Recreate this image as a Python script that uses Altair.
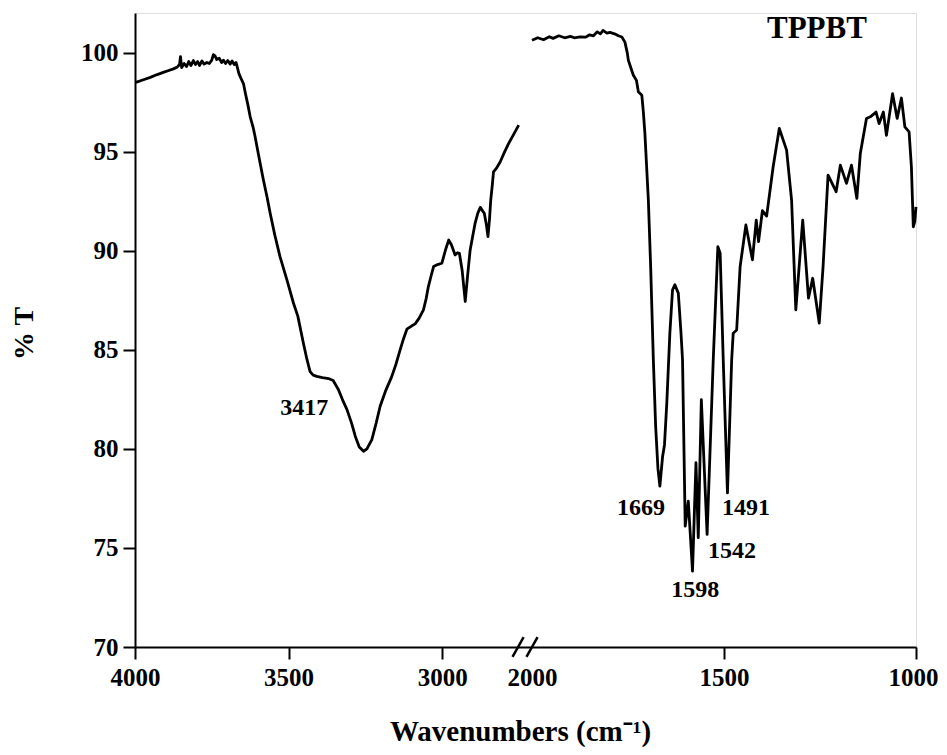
import altair as alt
import pandas as pd

# ---- spectrum, left segment (4000 - 2750 cm-1) ----
left_wn = [3997, 3975, 3950, 3930, 3908, 3890, 3875, 3862, 3855, 3852, 3848, 3840, 3832, 3825,
           3818, 3810, 3803, 3796, 3790, 3782, 3775, 3766, 3758, 3750, 3745, 3740, 3734, 3726,
           3718, 3712, 3705, 3698, 3690, 3684, 3677, 3671, 3666, 3662, 3655, 3647, 3640, 3633,
           3625, 3615, 3609, 3595, 3582, 3570, 3560, 3545, 3528, 3505, 3484, 3470, 3452, 3440,
           3430, 3420, 3408, 3390, 3370, 3355, 3338, 3325, 3310, 3295, 3283, 3270, 3256, 3245,
           3229, 3215, 3202, 3185, 3164, 3150, 3137, 3125, 3115, 3100, 3088, 3075, 3061, 3052,
           3045, 3035, 3028, 3015, 3001, 2990, 2979, 2970, 2958, 2950, 2944, 2935, 2925, 2917,
           2909, 2900, 2893, 2884, 2876, 2868, 2863, 2856, 2851, 2846, 2842, 2837, 2833, 2822,
           2811, 2798, 2784, 2770, 2751]
left_t = [98.50, 98.62, 98.75, 98.88, 99.00, 99.10, 99.18, 99.28, 99.40, 99.80, 99.25, 99.45, 99.30, 99.55,
          99.35, 99.60, 99.40, 99.55, 99.35, 99.58, 99.42, 99.50, 99.45, 99.62, 99.90, 99.85, 99.65, 99.72,
          99.50, 99.62, 99.45, 99.60, 99.42, 99.58, 99.40, 99.50, 99.20, 98.95, 98.70, 98.44, 97.90, 97.40,
          96.76, 96.20, 95.75, 94.60, 93.57, 92.70, 91.89, 90.80, 89.70, 88.50, 87.35, 86.70, 85.34, 84.50,
          83.90, 83.72, 83.66, 83.60, 83.55, 83.45, 83.00, 82.50, 81.98, 81.30, 80.64, 80.10, 79.88, 80.00,
          80.47, 81.30, 82.15, 82.90, 83.66, 84.30, 85.00, 85.60, 86.04, 86.20, 86.31, 86.60, 87.02, 87.60,
          88.19, 88.80, 89.20, 89.30, 89.37, 90.00, 90.54, 90.30, 89.79, 89.90, 89.87, 89.00, 87.44, 88.80,
          90.04, 90.80, 91.38, 91.90, 92.19, 92.00, 91.89, 91.30, 90.71, 91.60, 92.56, 93.30, 93.98, 94.20,
          94.49, 94.95, 95.41, 95.80, 96.34]

# ---- spectrum, right segment (2000 - 1000 cm-1) ----
right_wn = [2000, 1985, 1970, 1955, 1945, 1930, 1915, 1900, 1890, 1875, 1860, 1850, 1840, 1830,
            1822, 1815, 1805, 1797, 1785, 1775, 1766, 1758, 1752, 1749, 1742, 1736, 1728, 1723,
            1714, 1710, 1706, 1697, 1691, 1684, 1678, 1672, 1667, 1660, 1655, 1649, 1641, 1634,
            1628, 1619, 1612, 1608, 1601, 1593, 1582, 1573, 1567, 1559, 1544, 1528, 1516, 1510,
            1502, 1491, 1480, 1476, 1467, 1458, 1443, 1426, 1416, 1410, 1400, 1389, 1372, 1356,
            1337, 1324, 1313, 1295, 1280, 1269, 1252, 1242, 1229, 1208, 1197, 1181, 1168, 1154,
            1145, 1129, 1119, 1104, 1096, 1085, 1077, 1061, 1049, 1038, 1029, 1018, 1012, 1007,
            1003, 1000]
right_t = [100.62, 100.75, 100.65, 100.80, 100.72, 100.85, 100.75, 100.82, 100.75, 100.80, 100.78, 100.90, 100.85, 101.05,
           100.95, 101.12, 100.98, 101.02, 100.95, 100.85, 100.79, 100.53, 100.00, 99.61, 99.20, 98.86, 98.60, 98.02,
           97.85, 97.00, 95.92, 92.56, 89.20, 84.50, 81.14, 79.00, 78.12, 79.60, 80.20, 82.30, 85.84, 88.03,
           88.28, 87.86, 85.85, 84.50, 76.10, 77.36, 73.83, 79.30, 75.52, 82.48, 75.68, 84.50, 90.21, 89.87,
           84.50, 77.78, 84.50, 85.84, 86.00, 89.20, 91.30, 89.54, 91.55, 90.46, 92.02, 91.75, 94.24, 96.17,
           95.08, 92.56, 87.02, 91.55, 87.61, 88.61, 86.35, 89.20, 93.82, 92.98, 94.32, 93.40, 94.32, 92.64,
           94.91, 96.67, 96.76, 97.00, 96.42, 97.00, 95.83, 97.93, 96.68, 97.71, 96.25, 96.00, 94.24, 91.21,
           91.50, 92.22]

# ---- peak annotations ----
peak_labels = ["3417", "1669", "1491", "1542", "1598"]
peak_wn = [3449, 1716, 1443, 1479, 1575]
peak_t = [82.08, 77.04, 77.00, 74.83, 72.90]

# ---- sample name ----
sample_name = ["TPPBT"]
sample_wn = [1258]
sample_t = [101.17]

# ---- axis break marks ----
break_wn = [2753, 2000]
break_t = [70, 70]

x_ticks = [4000, 3500, 3000, 2000, 1500, 1000]
y_ticks = [70, 75, 80, 85, 90, 95, 100]

spec = pd.DataFrame({
    "wn": left_wn + right_wn,
    "T": left_t + right_t,
    "seg": ["left"] * len(left_wn) + ["right"] * len(right_wn),
})
peaks = pd.DataFrame({"label": peak_labels, "wn": peak_wn, "T": peak_t})
sample = pd.DataFrame({"label": sample_name, "wn": sample_wn, "T": sample_t})
breaks = pd.DataFrame({"wn": break_wn, "T": break_t})

FONT = "Liberation Serif"

xscale = alt.Scale(domain=[4000, 2750, 2000, 1000], range=[0, 384, 397, 781], nice=False, zero=False)
yscale = alt.Scale(domain=[70, 102], nice=False, zero=False)

xaxis = alt.Axis(
    values=x_ticks, format="d", grid=False,
    tickSize=12, tickWidth=2, tickColor="black",
    tickOpacity={"condition": {"test": "datum.value == 2000", "value": 0}, "value": 1},
    domainWidth=2, domainColor="black",
    labelFont=FONT, labelFontWeight="bold", labelFontSize=25, labelColor="black",
    labelOffset={"condition": {"test": "datum.value == 1000", "value": -3}, "value": 0},
    labelPadding=6, labelFlush=False, labelOverlap=False,
    title="Wavenumbers (cm⁻¹)", titleFont=FONT, titleFontWeight="bold", titleFontSize=29,
    titleColor="black", titleX=385, titleY=93, titleAlign="center", titleBaseline="alphabetic",
)
yaxis = alt.Axis(
    values=y_ticks, grid=False,
    tickSize=12, tickWidth=2, tickColor="black",
    domainWidth=2, domainColor="black",
    labelFont=FONT, labelFontWeight="bold", labelFontSize=25, labelColor="black",
    labelPadding=5, labelFlush=False, labelOverlap=False,
    title="% T", titleFont=FONT, titleFontWeight="bold", titleFontSize=28, titleColor="black",
    titleAngle=270, titleX=-111, titleY=320, titleAlign="center", titleBaseline="middle",
)

line = alt.Chart(spec).mark_line(color="black", strokeWidth=2.8, strokeJoin="round").encode(
    x=alt.X("wn:Q", scale=xscale, axis=xaxis),
    y=alt.Y("T:Q", scale=yscale, axis=yaxis),
    detail="seg:N",
    order="order:Q",
).transform_calculate(order="-datum.wn")

peak_text = alt.Chart(peaks).mark_text(
    font=FONT, fontWeight="bold", fontSize=24, color="black", align="center", baseline="middle"
).encode(x=alt.X("wn:Q", scale=xscale), y=alt.Y("T:Q", scale=yscale), text="label:N")

sample_text = alt.Chart(sample).mark_text(
    font=FONT, fontWeight="bold", fontSize=31, color="black", align="center", baseline="middle"
).encode(x=alt.X("wn:Q", scale=xscale), y=alt.Y("T:Q", scale=yscale), text="label:N")

break_marks = alt.Chart(breaks).mark_point(
    shape="M -0.5 0.9 L 0.5 -0.9", size=490, filled=False, color="black", strokeWidth=2.5, opacity=1
).encode(x=alt.X("wn:Q", scale=xscale), y=alt.Y("T:Q", scale=yscale))

chart = alt.layer(line, peak_text, sample_text, break_marks).properties(
    width=781, height=634,
    autosize=alt.AutoSizeParams(type="none"),
    padding={"left": 127, "top": 5, "right": 23, "bottom": 100},
).configure_view(stroke=None).configure(background="white")

chart.save("out.html", embed_options={"renderer": "svg", "actions": False})
